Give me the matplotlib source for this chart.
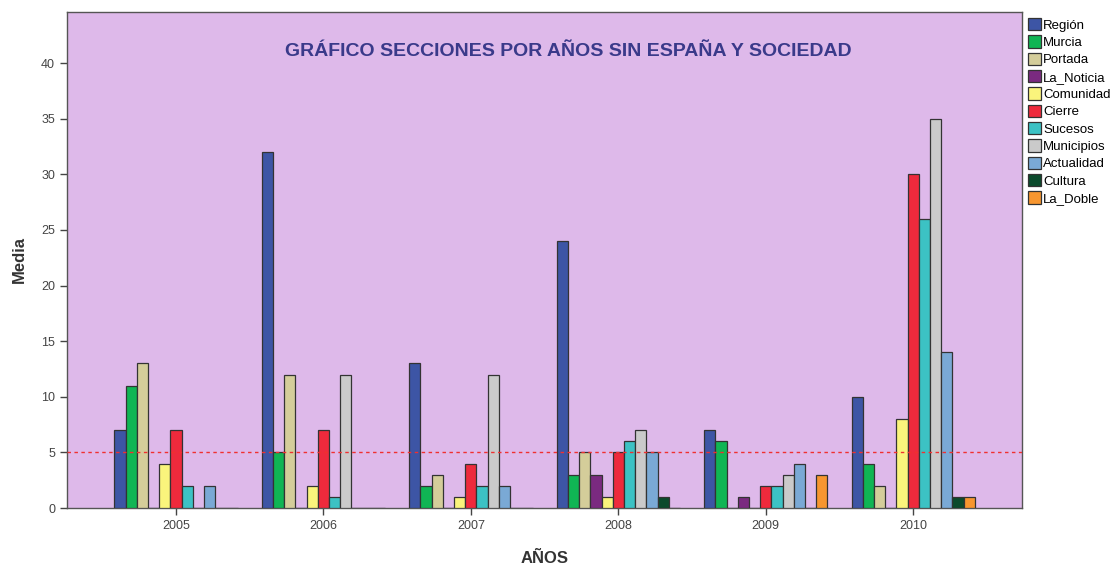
import matplotlib
matplotlib.use('Agg')
import matplotlib.pyplot as plt
import numpy as np

plt.rcParams['font.family'] = ['Liberation Sans', 'DejaVu Sans']

years = ['2005', '2006', '2007', '2008', '2009', '2010']
secciones = ['Región', 'Murcia', 'Portada', 'La_Noticia', 'Comunidad', 'Cierre',
             'Sucesos', 'Municipios', 'Actualidad', 'Cultura', 'La_Doble']

# media por seccion, un valor por año
region     = [7, 32, 13, 24, 7, 10]
murcia     = [11, 5, 2, 3, 6, 4]
portada    = [13, 12, 3, 5, 0, 2]
la_noticia = [0, 0, 0, 3, 1, 0]
comunidad  = [4, 2, 1, 1, 0, 8]
cierre     = [7, 7, 4, 5, 2, 30]
sucesos    = [2, 1, 2, 6, 2, 26]
municipios = [0, 12, 12, 7, 3, 35]
actualidad = [2, 0, 2, 5, 4, 14]
cultura    = [0, 0, 0, 1, 0, 1]
la_doble   = [0, 0, 0, 0, 3, 1]

series = [region, murcia, portada, la_noticia, comunidad, cierre,
          sucesos, municipios, actualidad, cultura, la_doble]
colores = ['#3D55A5', '#10B554', '#D4CD9A', '#7A2A80', '#FAF47C', '#EE2A3C',
           '#3CC2C4', '#CACACA', '#7AA9D5', '#0B4A2C', '#F7962F']

fig = plt.figure(figsize=(11.16, 5.67), dpi=100)
ax = fig.add_axes([0.060, 0.104, 0.856, 0.875])
ax.set_facecolor('#DEB9EA')

x = np.arange(len(years))
w = 0.076
n = len(series)
for i in range(n):
    off = (i - 5) * w
    ax.bar(x + off, series[i], width=w, color=colores[i], edgecolor='#333333',
           linewidth=0.9, label=secciones[i], zorder=3)

ax.axhline(5, color='#F03030', linestyle=(0, (2.5, 2.5)), linewidth=1.0, zorder=4)

ax.set_xlim(-0.74, 5.74)
ax.set_ylim(0, 44.6)
ax.set_xticks(x)
ax.set_xticklabels(years)
ax.set_yticks(range(0, 41, 5))
ax.tick_params(axis='both', labelsize=9, colors='#444444', length=5, width=1)
for s in ax.spines.values():
    s.set_color('#555555')
    s.set_linewidth(1)

ax.set_xlabel('AÑOS', fontsize=12, fontweight='bold', color='#333333', labelpad=14)
ax.set_ylabel('Media', fontsize=12, fontweight='bold', color='#333333', labelpad=10)

ax.text(0.525, 0.92, 'GRÁFICO SECCIONES POR AÑOS SIN ESPAÑA Y SOCIEDAD',
        transform=ax.transAxes, ha='center', va='center', fontsize=14,
        fontweight='bold', color='#3A3A8A')

ax.legend(loc='upper left', bbox_to_anchor=(1.0, 0.998), frameon=False,
          fontsize=9.5, handlelength=1.0, handleheight=1.05, handletextpad=0.2,
          labelspacing=0.28, borderaxespad=0.2, borderpad=0.2)

fig.savefig('out.png', dpi=100)
